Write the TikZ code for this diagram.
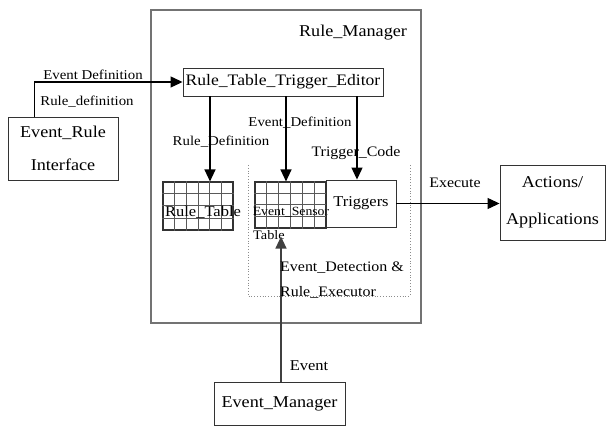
\documentclass[tikz,border=0pt]{standalone}
\usepackage{fontspec}
\setmainfont{Liberation Serif}[FakeStretch=1.1]
\usetikzlibrary{arrows.meta,calc}
\newcommand{\szA}{\fontsize{16.5}{19}\selectfont}
\newcommand{\szE}{\fontsize{16}{19}\selectfont}
\newcommand{\szB}{\fontsize{14.5}{16}\selectfont}
\newcommand{\szC}{\fontsize{13.5}{15}\selectfont}
\newcommand{\szD}{\fontsize{13}{15}\selectfont}
\begin{document}
\begin{tikzpicture}[x=1pt,y=-1pt,
  box/.style={draw=black!80, line width=0.9pt, inner sep=0pt, align=center},
  conn/.style={line width=1.2pt, -{Triangle[length=12pt,width=11pt]}},
  lbl/.style={inner sep=0pt},
  gridline/.style={draw=black!65, line width=1pt},
  dotbox/.style={draw=black!45, dotted, line width=0.8pt}
]
\useasboundingbox (0,0) rectangle (606,430);

% Rule manager frame
\node[box, draw=black!55, line width=1.2pt, minimum width=270pt, minimum height=313pt] (rm) at (286,166.5) {};
\node[lbl, font=\szA] (rmlab) at (353,33) {Rule\_Manager};

% dotted event detection region
\draw[dotbox] (248,165) -- (248,296) -- (410,296) -- (410,165);

% editor
\node[box, font=\szE, minimum width=200pt, minimum height=28pt] (editor) at (283,82) {Rule\_Table\_Trigger\_Editor};

% Event rule interface
\node[box, font=\fontsize{16.5}{33}\selectfont, minimum width=110pt, minimum height=63pt] (eri) at (63,148.5)
  {Event\_Rule\\Interface};

% Rule table grid
\node[box, line width=1.1pt, minimum width=70pt, minimum height=48pt] (ruletable) at (198,206) {};
\foreach \i in {1,...,5}
  \draw[gridline] ($(ruletable.north west)!\i/6!(ruletable.north east)$) -- ($(ruletable.south west)!\i/6!(ruletable.south east)$);
\foreach \j in {1,...,3}
  \draw[gridline] ($(ruletable.north west)!\j/4!(ruletable.south west)$) -- ($(ruletable.north east)!\j/4!(ruletable.south east)$);
\node[lbl, font=\fontsize{15}{17}\selectfont] (rtlab) at (203,212) {Rule\_Table};

% Event sensor grid
\node[box, line width=1.1pt, minimum width=71pt, minimum height=46pt] (sensortable) at (290.5,205) {};
\foreach \i in {1,...,5}
  \draw[gridline] ($(sensortable.north west)!\i/6!(sensortable.north east)$) -- ($(sensortable.south west)!\i/6!(sensortable.south east)$);
\foreach \j in {1,...,3}
  \draw[gridline] ($(sensortable.north west)!\j/4!(sensortable.south west)$) -- ($(sensortable.north east)!\j/4!(sensortable.south east)$);
\node[lbl, font=\fontsize{12.5}{14}\selectfont] (stlab) at (291,212) {Event\_Sensor};
\node[lbl, font=\szD] (stlab2) at (269,235) {Table};

% Triggers
\node[box, font=\fontsize{15}{17}\selectfont, minimum width=70pt, minimum height=47pt] (triggers) at (361,203.5) {Triggers};

% Actions
\node[box, font=\fontsize{16.5}{37}\selectfont, minimum width=105pt, minimum height=75pt] (actions) at (552.5,202.5)
  {Actions/\\Applications};

% Event manager
\node[box, font=\szA, minimum width=131pt, minimum height=43pt] (evman) at (279.5,403.5) {Event\_Manager};

% connectors
\coordinate (eriTop) at ($(eri.north west)+(27,0)$);
\draw[conn] (eriTop) |- (editor.west);
\draw[conn] (editor.south -| ruletable.north) ++(12,0) coordinate (c1) -- (c1 |- ruletable.north);
\coordinate (c2) at (editor.south -| sensortable.north);
\draw[conn] ($(c2)+(-4.5,0)$) coordinate (c2a) -- (c2a |- sensortable.north);
\coordinate (c3) at ($(editor.south -| triggers.north)+(-4,0)$);
\draw[conn] (c3) -- (c3 |- triggers.north);
\draw[conn] (triggers.east) -- (triggers.east -| actions.west);
\coordinate (c4) at ($(evman.north)+(1.5,0)$);
\draw[conn, draw=black!75, shorten >=8pt] (c4) -- (c4 |- sensortable.south);

% labels
\node[lbl, font=\szC] (l1) at (93,75) {Event Definition};
\node[lbl, font=\szC] (l2) at (87,102) {Rule\_definition};
\node[lbl, font=\szC] (l3) at (221,142) {Rule\_Definition};
\node[lbl, font=\szC] (l4) at (300,123) {Event\_Definition};
\node[lbl, font=\szB] (l5) at (356,153) {Trigger\_Code};
\node[lbl, font=\szB] (l6) at (455,183) {Execute};
\node[lbl, font=\szB, anchor=west] (l7) at (280,268) {Event\_Detection \&};
\node[lbl, font=\szB, anchor=west] (l8) at (280,292) {Rule\_Executor};
\node[lbl, font=\fontsize{15}{17}\selectfont] (l9) at (309,366) {Event};
\end{tikzpicture}
\end{document}
